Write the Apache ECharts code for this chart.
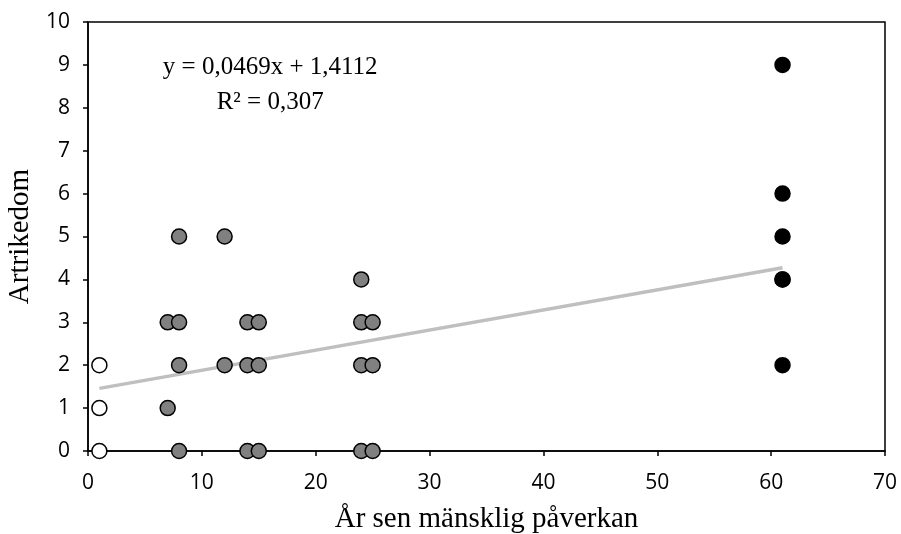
<!DOCTYPE html>
<html><head><meta charset="utf-8">
<script src="https://cdn.jsdelivr.net/npm/echarts@6/dist/echarts.min.js"></script>
<style>html,body{margin:0;padding:0;background:#fff}#c{width:901px;height:534px}</style>
</head><body><div id="c"></div>
<script>
const whitePoints = [[1,0],[1,1],[1,2]];
const grayPoints = [[7,1],[7,3],[8,0],[8,2],[8,3],[8,5],[12,2],[12,5],[14,0],[14,2],[14,3],[15,0],[15,2],[15,3],[24,0],[24,2],[24,3],[24,4],[25,0],[25,2],[25,3]];
const blackPoints = [[61,2],[61,4],[61,4],[61,5],[61,6],[61,9]];
const trendLine = [[1,1.46],[61,4.27]];
const equationText = ['y = 0,0469x + 1,4112', 'R² = 0,307'];
const xName = 'År sen mänsklig påverkan';
const yName = 'Artrikedom';

const chart = echarts.init(document.getElementById('c'));
const tickFont = {fontFamily:'Open Sans', fontSize:21, color:'#000'};
function sc(data, color){
  return {type:'scatter', data:data, symbolSize:15, z:3,
    itemStyle:{color:color, borderColor:'#000', borderWidth:1.5, opacity:1}};
}
chart.setOption({
  animation:false,
  grid:{left:88, right:16, top:22, bottom:83, containLabel:false, outerBoundsMode:'none',
    show:true, borderColor:'#000', borderWidth:1.5, backgroundColor:'transparent'},
  xAxis:{type:'value', min:0, max:70, interval:10, name:xName, nameLocation:'middle', nameGap:54,
    nameTextStyle:{fontFamily:'Liberation Serif', fontSize:29, color:'#000'},
    axisLine:{onZero:false, lineStyle:{color:'#000', width:1.5}},
    axisTick:{show:true, length:5, lineStyle:{color:'#000', width:1.5}},
    axisLabel:Object.assign({margin:22}, tickFont), splitLine:{show:false}},
  yAxis:{type:'value', min:0, max:10, interval:1, name:yName, nameLocation:'middle', nameGap:51,
    nameTextStyle:{fontFamily:'Liberation Serif', fontSize:29, color:'#000'},
    axisLine:{onZero:false, lineStyle:{color:'#000', width:1.5}},
    axisTick:{show:true, length:5, lineStyle:{color:'#000', width:1.5}},
    axisLabel:Object.assign({margin:18}, tickFont), splitLine:{show:false}},
  series:[
    {type:'line', data:trendLine, symbol:'none', z:2, lineStyle:{color:'#bfbfbf', width:3.5}},
    sc(whitePoints,'#ffffff'),
    sc(grayPoints,'#808080'),
    sc(blackPoints,'#000000')
  ]
});
const p1 = chart.convertToPixel({gridIndex:0},[16,8.93]);
const p2 = chart.convertToPixel({gridIndex:0},[16,8.13]);
chart.setOption({graphic:[
  {type:'text', x:p1[0], y:p1[1], style:{text:equationText[0], font:'25px "Liberation Serif"', fill:'#000', textAlign:'center', textVerticalAlign:'middle'}},
  {type:'text', x:p2[0], y:p2[1], style:{text:equationText[1], font:'25px "Liberation Serif"', fill:'#000', textAlign:'center', textVerticalAlign:'middle'}}
]});
</script></body></html>
